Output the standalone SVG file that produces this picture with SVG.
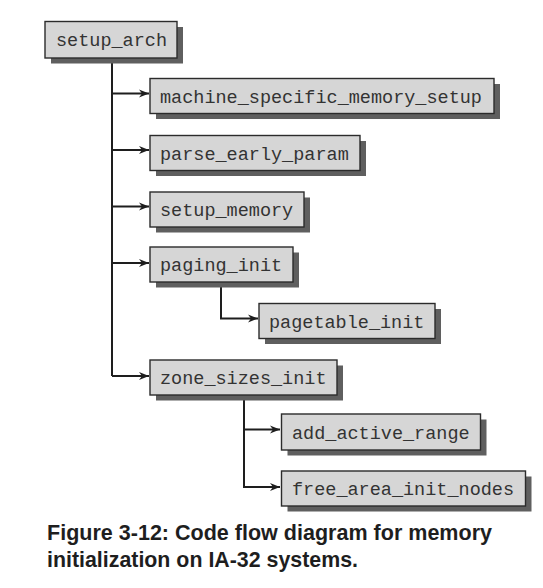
<svg xmlns="http://www.w3.org/2000/svg" width="543" height="588" viewBox="0 0 543 588">
<defs>
<style>
.shadow{fill:#5f5f5f}
.box{fill:#d6d6d6;stroke:#2b2b2b;stroke-width:1.4}
.lbl{font-family:"Liberation Mono","Courier New",monospace;font-size:18.5px;fill:#333333}
.cn{fill:none;stroke:#1e1e1e;stroke-width:2}
.cap{font-family:"Liberation Sans",Arial,sans-serif;font-weight:bold;font-size:21.5px;fill:#1e1e1e}
</style>
<marker id="ah" markerWidth="12" markerHeight="10" refX="10" refY="5" orient="auto" markerUnits="userSpaceOnUse">
<path d="M0,1 L10,5 L0,9 L3,5 Z" fill="#1e1e1e"/>
</marker>
</defs>
<rect width="543" height="588" fill="#ffffff"/>
<g id="connectors">
<path class="cn" d="M112,58 V376"/>
<path class="cn" d="M112,93.5 H149" marker-end="url(#ah)"/>
<path class="cn" d="M112,150 H149" marker-end="url(#ah)"/>
<path class="cn" d="M112,206.5 H149" marker-end="url(#ah)"/>
<path class="cn" d="M112,263 H149" marker-end="url(#ah)"/>
<path class="cn" d="M112,376 H149" marker-end="url(#ah)"/>
<path class="cn" d="M221,283 V318.5 H258" marker-end="url(#ah)"/>
<path class="cn" d="M244,395 V487 H280" marker-end="url(#ah)"/>
<path class="cn" d="M244,429.5 H280" marker-end="url(#ah)"/>
</g>
<g id="setup_arch">
<rect class="shadow" x="51" y="27" width="132" height="36.5"/>
<rect class="box" x="45" y="21.5" width="132" height="36.5"/>
<text class="lbl" x="56" y="45.5">setup_arch</text>
</g>
<g id="machine_specific_memory_setup">
<rect class="shadow" x="156" y="84" width="344" height="35"/>
<rect class="box" x="150" y="78.5" width="344" height="35"/>
<text class="lbl" x="160" y="102.5">machine_specific_memory_setup</text>
</g>
<g id="parse_early_param">
<rect class="shadow" x="156" y="141" width="210" height="35"/>
<rect class="box" x="150" y="135.5" width="210" height="35"/>
<text class="lbl" x="160" y="159.5">parse_early_param</text>
</g>
<g id="setup_memory">
<rect class="shadow" x="156" y="197.5" width="154" height="35"/>
<rect class="box" x="150" y="192" width="154" height="35"/>
<text class="lbl" x="160" y="216">setup_memory</text>
</g>
<g id="paging_init">
<rect class="shadow" x="156" y="252.5" width="143" height="35"/>
<rect class="box" x="150" y="247" width="143" height="35"/>
<text class="lbl" x="160" y="271">paging_init</text>
</g>
<g id="pagetable_init">
<rect class="shadow" x="265" y="309" width="176" height="35"/>
<rect class="box" x="259" y="303.5" width="176" height="35"/>
<text class="lbl" x="269" y="327.5">pagetable_init</text>
</g>
<g id="zone_sizes_init">
<rect class="shadow" x="156" y="365.5" width="187" height="35"/>
<rect class="box" x="150" y="360" width="187" height="35"/>
<text class="lbl" x="160" y="384">zone_sizes_init</text>
</g>
<g id="add_active_range">
<rect class="shadow" x="287.5" y="419.5" width="199" height="36"/>
<rect class="box" x="281.5" y="414" width="199" height="36"/>
<text class="lbl" x="292" y="438.5">add_active_range</text>
</g>
<g id="free_area_init_nodes">
<rect class="shadow" x="287.5" y="476.5" width="244" height="35"/>
<rect class="box" x="281.5" y="471" width="244" height="35"/>
<text class="lbl" x="292" y="495">free_area_init_nodes</text>
</g>
<g id="caption">
<text class="cap" x="47" y="539.5" textLength="445" lengthAdjust="spacingAndGlyphs">Figure 3-12: Code flow diagram for memory</text>
<text class="cap" x="47" y="567" textLength="311" lengthAdjust="spacingAndGlyphs">initialization on IA-32 systems.</text>
</g>
</svg>
